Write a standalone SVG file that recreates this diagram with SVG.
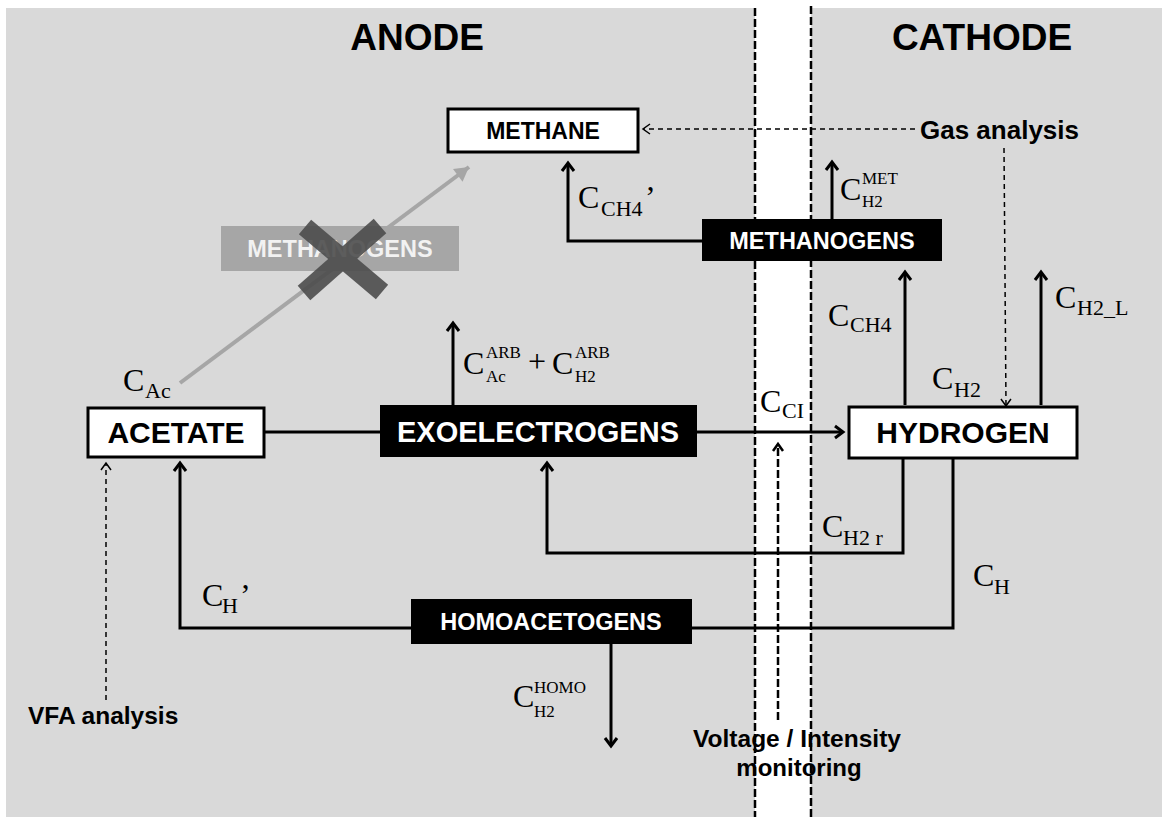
<svg xmlns="http://www.w3.org/2000/svg" width="1162" height="817" viewBox="0 0 1162 817">
<defs>
<style>
.sans{font-family:"Liberation Sans",Arial,sans-serif;font-weight:bold}
.ct{font-family:"Liberation Serif","Times New Roman",serif;font-size:32px;fill:#000}
.cs{font-family:"Liberation Serif","Times New Roman",serif;font-size:22px;fill:#000}
.cx{font-family:"Liberation Serif","Times New Roman",serif;font-size:17px;fill:#000}
.ln{fill:none;stroke:#000;stroke-width:3}
.dl{fill:none;stroke:#000;stroke-width:1.5;stroke-dasharray:5,4}
.wbox{fill:#fff;stroke:#000;stroke-width:3}
.bbox{fill:#000}
</style>
<marker id="ah" markerWidth="18" markerHeight="18" refX="12" refY="9" orient="auto" markerUnits="userSpaceOnUse">
<path d="M4,3 L12,9 L4,15" fill="none" stroke="#000" stroke-width="3"/>
</marker>
<marker id="dh" markerWidth="14" markerHeight="14" refX="10" refY="7" orient="auto" markerUnits="userSpaceOnUse">
<path d="M3,2 L10,7 L3,12" fill="none" stroke="#000" stroke-width="1.5"/>
</marker>
<marker id="vh" markerWidth="16" markerHeight="16" refX="11" refY="8" orient="auto" markerUnits="userSpaceOnUse">
<path d="M4,3 L11,8 L4,13" fill="none" stroke="#000" stroke-width="2.5"/>
</marker>
<marker id="gh" markerWidth="24" markerHeight="24" refX="16" refY="12" orient="auto" markerUnits="userSpaceOnUse">
<path d="M2,4 L16,12 L2,20 Z" fill="#a6a6a6"/>
</marker>
</defs>
<rect x="6" y="8" width="1156" height="809" fill="#d9d9d9"/>
<rect x="755" y="0" width="56" height="817" fill="#fff"/>
<g id="separators">
<line x1="755" y1="8" x2="755" y2="817" stroke="#000" stroke-width="2.5" stroke-dasharray="8,3"/>
<line x1="811" y1="6" x2="811" y2="817" stroke="#000" stroke-width="2.5" stroke-dasharray="8,3"/>
</g>
<text class="sans" x="417" y="50" font-size="37" text-anchor="middle">ANODE</text>
<text class="sans" x="982" y="50" font-size="37" text-anchor="middle">CATHODE</text>
<g id="connectors">
<path class="ln" d="M702,241 H568 V163" marker-end="url(#ah)"/>
<path class="ln" d="M832,219 V162" marker-end="url(#ah)"/>
<path class="ln" d="M905,405 V272" marker-end="url(#ah)"/>
<path class="ln" d="M1041,405 V272" marker-end="url(#ah)"/>
<path class="ln" d="M264,432 H380"/>
<path class="ln" d="M697,432 H843" marker-end="url(#ah)"/>
<path class="ln" d="M453,405 V323" marker-end="url(#ah)"/>
<path class="ln" d="M903,458 V553 H547 V463" marker-end="url(#ah)"/>
<path class="ln" d="M953,458 V628 H692"/>
<path class="ln" d="M411,628 H180 V463" marker-end="url(#ah)"/>
<path class="ln" d="M611,644 V746" marker-end="url(#ah)"/>
<path d="M180,383 L469,167" fill="none" stroke="#a6a6a6" stroke-width="4" marker-end="url(#gh)"/>
<path class="dl" d="M915,129 H643" marker-end="url(#dh)"/>
<path class="dl" d="M1004,148 L1006,406" marker-end="url(#dh)"/>
<path class="dl" d="M106,700 V463" marker-end="url(#dh)"/>
<path d="M778,720 V444" fill="none" stroke="#000" stroke-width="2.5" stroke-dasharray="8,3" marker-end="url(#vh)"/>
</g>
<g id="methane">
<rect class="wbox" x="448" y="109" width="190" height="43"/>
<text class="sans" x="543" y="139" font-size="23" text-anchor="middle">METHANE</text>
</g>
<g id="methanogens-cathode">
<rect class="bbox" x="702" y="219" width="240" height="42"/>
<text class="sans" x="822" y="249" font-size="23.5" fill="#fff" text-anchor="middle">METHANOGENS</text>
</g>
<g id="methanogens-anode">
<rect x="221" y="226" width="238" height="45" fill="#a6a6a6"/>
<text class="sans" x="340" y="257" font-size="23.5" fill="#f2f2f2" text-anchor="middle">METHANOGENS</text>
<g stroke="#4d4d4d" stroke-width="19" opacity="0.9">
<line x1="305" y1="227" x2="382" y2="292"/>
<line x1="380" y1="226" x2="304" y2="293"/>
</g>
</g>
<g id="acetate">
<rect class="wbox" x="88" y="408" width="176" height="49"/>
<text class="sans" x="176" y="443" font-size="30" text-anchor="middle">ACETATE</text>
</g>
<g id="exoelectrogens">
<rect class="bbox" x="380" y="405" width="317" height="52"/>
<text class="sans" x="538" y="442" font-size="29" fill="#fff" text-anchor="middle">EXOELECTROGENS</text>
</g>
<g id="hydrogen">
<rect class="wbox" x="849" y="407" width="228" height="51"/>
<text class="sans" x="963" y="443" font-size="30" text-anchor="middle">HYDROGEN</text>
</g>
<g id="homoacetogens">
<rect class="bbox" x="411" y="599" width="281" height="45"/>
<text class="sans" x="551" y="630" font-size="23.5" fill="#fff" text-anchor="middle">HOMOACETOGENS</text>
</g>
<g id="gas-analysis">
<text class="sans" x="920" y="139" font-size="26">Gas analysis</text>
</g>
<g id="vfa-analysis">
<text class="sans" x="28" y="724" font-size="24.5">VFA analysis</text>
</g>
<g id="voltage-monitoring">
<text class="sans" x="797" y="747" font-size="24.5" text-anchor="middle">Voltage / Intensity</text>
<text class="sans" x="799" y="776" font-size="24" text-anchor="middle">monitoring</text>
</g>
<g id="labels">
<text class="ct" x="578" y="208">C</text><text class="cs" x="601" y="216">CH4</text><text class="ct" x="645" y="208">’</text>
<text class="ct" x="840" y="200">C</text><text class="cx" x="862" y="184" font-size="19">MET</text><text class="cx" x="862" y="207" font-size="19">H2</text>
<text class="ct" x="828" y="326">C</text><text class="cs" x="850" y="332">CH4</text>
<text class="ct" x="1055" y="308">C</text><text class="cs" x="1077" y="315">H2_L</text>
<text class="ct" x="932" y="389">C</text><text class="cs" x="954" y="397">H2</text>
<text class="ct" x="760" y="412">C</text><text class="cs" x="782" y="418">CI</text>
<text class="ct" x="822" y="537">C</text><text class="cs" x="843" y="545">H2 r</text>
<text class="ct" x="973" y="586">C</text><text class="cs" x="994" y="594">H</text>
<text class="ct" x="202" y="606">C</text><text class="cs" x="222" y="613">H</text><text class="ct" x="240" y="606">’</text>
<text class="ct" x="123" y="391">C</text><text class="cs" x="145" y="398">Ac</text>
<text class="ct" x="463" y="374">C</text><text class="cx" x="486" y="358">ARB</text><text class="cx" x="486" y="382">Ac</text>
<text class="ct" x="528" y="372" font-size="28">+</text>
<text class="ct" x="552" y="374">C</text><text class="cx" x="575" y="358">ARB</text><text class="cx" x="575" y="382">H2</text>
<text class="ct" x="513" y="707" font-size="30">C</text><text class="cx" x="534" y="693">HOMO</text><text class="cx" x="534" y="717">H2</text>
</g>
</svg>
